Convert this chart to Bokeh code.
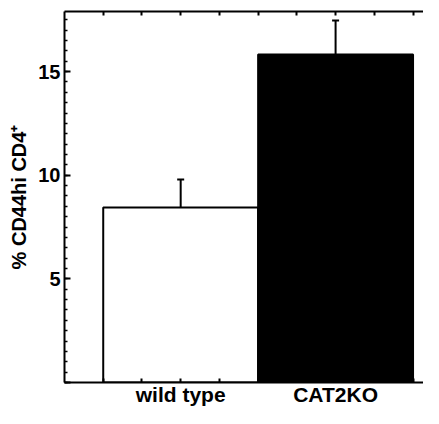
from bokeh.plotting import figure
from bokeh.models import (LinearAxis, FixedTicker, Range1d, Whisker, TeeHead,
                          ColumnDataSource, SingleIntervalTicker)
from bokeh.embed import file_html
from bokeh.resources import INLINE

# data
categories = ["wild type", "CAT2KO"]
positions = [3, 7]
values = [8.44, 15.82]
errors = [1.35, 1.64]
bar_colors = ["white", "black"]

FONT = "Liberation Sans"

src = ColumnDataSource(dict(
    x=positions, top=values, color=bar_colors,
    upper=[v + e for v, e in zip(values, errors)],
))

p = figure(width=423, height=408, output_backend="svg", toolbar_location=None,
           x_range=Range1d(0, 9.27), y_range=Range1d(0, 17.9),
           x_axis_location=None, y_axis_location=None,
           min_border_left=64, min_border_right=0, min_border_top=11,
           min_border_bottom=18)
p.outline_line_color = None
p.xgrid.visible = False
p.ygrid.visible = False
p.background_fill_color = "white"
p.border_fill_color = "white"

p.vbar(x="x", width=4, top="top", bottom=0, source=src,
       fill_color="color", line_color="black", line_width=2)

wh = Whisker(base="x", lower="top", upper="upper", source=src,
             dimension="height", line_color="black", line_width=2,
             upper_head=TeeHead(size=7, line_color="black", line_width=2),
             lower_head=None)
p.add_layout(wh)

# left axis
ya = LinearAxis(ticker=SingleIntervalTicker(interval=5, num_minor_ticks=10),
                axis_label="% CD44hi CD4\u207a")
ya.major_label_overrides = {0: ""}
ya.axis_line_width = 2
ya.major_tick_line_width = 2
ya.minor_tick_line_width = 1.5
ya.major_tick_in = 6
ya.major_tick_out = 0
ya.minor_tick_in = 3
ya.minor_tick_out = 0
ya.major_label_standoff = 4
ya.major_label_text_font = FONT
ya.major_label_text_font_style = "bold"
ya.major_label_text_font_size = "20px"
ya.major_label_text_color = "black"
ya.axis_label_text_font = FONT
ya.axis_label_text_font_style = "bold"
ya.axis_label_text_font_size = "20px"
ya.axis_label_text_color = "black"
ya.axis_label_standoff = 5
p.add_layout(ya, "left")

# bottom axis
xa = LinearAxis(ticker=FixedTicker(ticks=positions,
                                   minor_ticks=[1, 2, 4, 5, 6, 8, 9]))
xa.major_label_overrides = {pos: cat for pos, cat in zip(positions, categories)}
xa.axis_line_width = 2
xa.major_tick_line_width = 2
xa.minor_tick_line_width = 2
xa.major_tick_in = 4
xa.major_tick_out = 0
xa.minor_tick_in = 4
xa.minor_tick_out = 0
xa.major_label_standoff = 0
xa.major_label_text_font = FONT
xa.major_label_text_font_style = "bold"
xa.major_label_text_font_size = "21px"
xa.major_label_text_color = "black"
p.add_layout(xa, "below")

# top axis (ticks only)
ta = LinearAxis(ticker=FixedTicker(ticks=[1, 2, 3, 4, 5, 6, 7, 8, 9]))
ta.major_label_overrides = {i: "" for i in range(1, 10)}
ta.major_label_text_font_size = "1px"
ta.major_label_standoff = 0
ta.axis_line_width = 2
ta.major_tick_line_width = 2
ta.major_tick_in = 4
ta.major_tick_out = 0
ta.minor_tick_in = 0
ta.minor_tick_out = 0
p.add_layout(ta, "above")

open("out.html", "w").write(file_html(p, INLINE))
